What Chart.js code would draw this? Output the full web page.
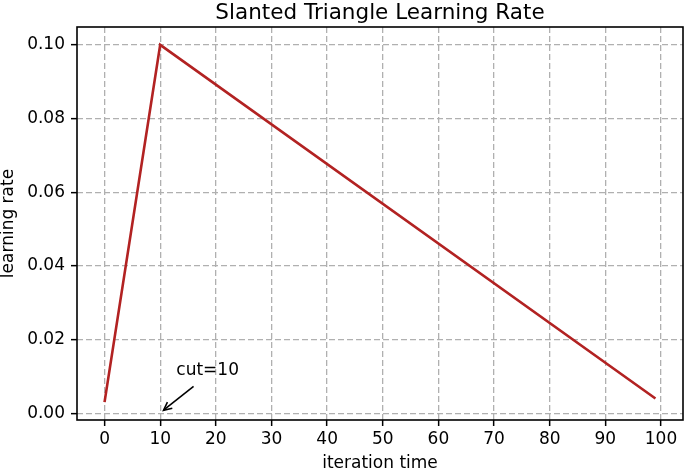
<!DOCTYPE html>
<html>
<head>
<meta charset="utf-8">
<script src="https://cdn.jsdelivr.net/npm/chart.js@4/dist/chart.umd.min.js"></script>
<style>
  html, body { margin: 0; padding: 0; background: #fff; }
  #wrap { width: 685px; height: 472px; }
</style>
</head>
<body>
<div id="wrap"><canvas id="c" width="685" height="472"></canvas></div>
<script>
// ---- data ----
const iterations = [0, 10, 99];
const learningRates = [0.003, 0.1, 0.004];
const xTickValues = [0, 10, 20, 30, 40, 50, 60, 70, 80, 90, 100];
const yTickValues = [0.00, 0.02, 0.04, 0.06, 0.08, 0.10];
const titleText = 'Slanted Triangle Learning Rate';
const xLabel = 'iteration time';
const yLabel = 'learning rate';
const annotationText = 'cut=10';
const annotationTip = [10.6, 0.0008];
const annotationTail = [16.0, 0.0073];
const annotationTextPos = [12.9, 0.0116];

const FONT = 'DejaVu Sans';

const framePlugin = {
  id: 'frame',
  afterDraw(chart) {
    const {ctx, chartArea: a} = chart;
    ctx.save();
    ctx.strokeStyle = '#000';
    ctx.lineWidth = 1.6;
    ctx.strokeRect(a.left, a.top, a.right - a.left, a.bottom - a.top);
    // title centred over the plot area
    ctx.fillStyle = '#000';
    ctx.font = '21.5px "' + FONT + '"';
    ctx.textAlign = 'center';
    ctx.textBaseline = 'middle';
    ctx.fillText(titleText, (a.left + a.right) / 2, 13);
    ctx.restore();
  }
};

const annotationPlugin = {
  id: 'cutAnnotation',
  afterDatasetsDraw(chart) {
    const {ctx, scales: {x, y}} = chart;
    const tx = x.getPixelForValue(annotationTip[0]), ty = y.getPixelForValue(annotationTip[1]);
    const sx = x.getPixelForValue(annotationTail[0]), sy = y.getPixelForValue(annotationTail[1]);
    ctx.save();
    ctx.strokeStyle = '#000';
    ctx.lineWidth = 1.6;
    ctx.beginPath();
    ctx.moveTo(sx, sy);
    ctx.lineTo(tx, ty);
    ctx.stroke();
    const ang = Math.atan2(ty - sy, tx - sx);
    const hl = 9, ha = 0.45;
    ctx.beginPath();
    ctx.moveTo(tx - hl * Math.cos(ang - ha), ty - hl * Math.sin(ang - ha));
    ctx.lineTo(tx, ty);
    ctx.lineTo(tx - hl * Math.cos(ang + ha), ty - hl * Math.sin(ang + ha));
    ctx.stroke();
    ctx.fillStyle = '#000';
    ctx.font = '17px "' + FONT + '"';
    ctx.textAlign = 'left';
    ctx.textBaseline = 'middle';
    ctx.fillText(annotationText, x.getPixelForValue(annotationTextPos[0]), y.getPixelForValue(annotationTextPos[1]));
    ctx.restore();
  }
};

new Chart(document.getElementById('c'), {
  type: 'line',
  data: {
    datasets: [{
      data: iterations.map((v, i) => ({x: v, y: learningRates[i]})),
      borderColor: '#b22222',
      borderWidth: 2.6,
      pointRadius: 0,
      fill: false,
      tension: 0
    }]
  },
  options: {
    responsive: false,
    animation: false,
    layout: { padding: { left: 0, right: 2, top: 27, bottom: 0 } },
    plugins: {
      legend: { display: false },
      tooltip: { enabled: false },
      title: { display: false }
    },
    scales: {
      x: {
        type: 'linear',
        min: -4.95,
        max: 103.95,
        afterBuildTicks(scale) { scale.ticks = xTickValues.map(v => ({value: v})); },
        afterFit(scale) { scale.height = 52; },
        ticks: {
          color: '#000',
          font: { family: FONT, size: 17 },
          padding: 3,
          maxRotation: 0,
          autoSkip: false,
          callback: (v) => String(v)
        },
        grid: {
          color: '#b0b0b0',
          lineWidth: 1.3,
          drawTicks: true,
          tickLength: 6,
          tickColor: '#000',
          tickWidth: 1.5
        },
        border: { display: false, dash: [6, 3] },
        title: {
          display: true,
          text: xLabel,
          color: '#000',
          font: { family: FONT, size: 17, lineHeight: 1 },
          padding: { top: 0, bottom: 0 }
        }
      },
      y: {
        type: 'linear',
        min: -0.00185,
        max: 0.10485,
        afterBuildTicks(scale) { scale.ticks = yTickValues.map(v => ({value: v})); },
        afterFit(scale) { scale.width = 77; },
        ticks: {
          color: '#000',
          font: { family: FONT, size: 17 },
          padding: 6,
          autoSkip: false,
          callback: (v) => Number(v).toFixed(2)
        },
        grid: {
          color: '#b0b0b0',
          lineWidth: 1.3,
          drawTicks: true,
          tickLength: 6,
          tickColor: '#000',
          tickWidth: 1.5
        },
        border: { display: false, dash: [6, 3] },
        title: {
          display: true,
          text: yLabel,
          color: '#000',
          font: { family: FONT, size: 17, lineHeight: 1 },
          padding: { top: 0, bottom: 0 }
        }
      }
    }
  },
  plugins: [framePlugin, annotationPlugin]
});
</script>
</body>
</html>
